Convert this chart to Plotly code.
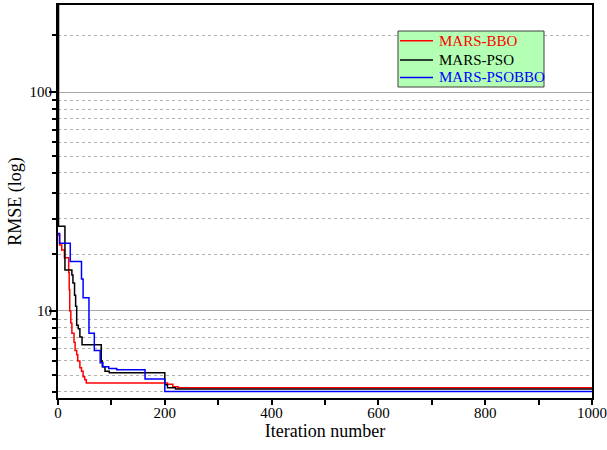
import plotly.graph_objects as go

# ---- data (iteration, RMSE); drawn as steps ----
bbo_iter = [0, 3, 7, 12, 20, 21, 22, 24, 26, 30, 32, 35, 37, 41, 44, 47, 50, 53, 190, 205, 215, 225, 1000]
bbo_rmse = [22.2, 20.0, 19.0, 17.5, 15.0, 12.5, 10.0, 8.8, 7.9, 7.2, 6.6, 6.3, 5.9, 5.5, 5.3, 5.0, 4.85, 4.68, 4.68, 4.62, 4.5, 4.45, 4.45]

pso_iter = [0, 1, 13, 26, 28, 31, 33, 35, 38, 41, 45, 81, 83, 88, 96, 200, 205, 220, 1000]
pso_rmse = [300, 24.4, 15.4, 14.6, 13.4, 11.8, 10.5, 8.6, 8.3, 7.6, 7.0, 5.9, 5.55, 5.3, 5.22, 4.6, 4.45, 4.40, 4.40]

psobbo_iter = [0, 3, 23, 44, 47, 58, 68, 79, 84, 95, 110, 163, 200, 1000]
psobbo_rmse = [22.6, 20.4, 16.8, 14.0, 11.5, 7.9, 6.6, 5.8, 5.55, 5.45, 5.38, 4.88, 4.28, 4.28]

x_ticks = [0, 200, 400, 600, 800, 1000]
y_major_ticks = [10, 100]
y_major_labels = ["10", "100"]
y_minor_ticks = [4.27, 5.09, 5.91, 6.73, 7.55, 8.36, 9.18,
                 18.18, 26.36, 34.55, 42.73, 50.91, 59.09, 67.27, 75.45, 83.64, 91.82,
                 181.8]

series = [
    ("MARS-BBO", bbo_iter, bbo_rmse, "#ff0000"),
    ("MARS-PSO", pso_iter, pso_rmse, "#000000"),
    ("MARS-PSOBBO", psobbo_iter, psobbo_rmse, "#0000ff"),
]

FONT = "Liberation Serif, Times New Roman, serif"
W, H = 607, 450
ML, MR, MT, MB = 58, 15, 5, 52
PW, PH = W - ML - MR, H - MT - MB


def px_x(p):
    return (p - ML) / PW


def px_y(p):
    return (H - MB - p) / PH


fig = go.Figure()
for name, xs, ys, col in series:
    fig.add_trace(go.Scatter(
        x=xs, y=ys, mode="lines", line=dict(color=col, width=1.5, shape="hv"),
        name=name, showlegend=False,
    ))

# hand-built legend box (matches the compact reference legend)
fig.add_shape(type="rect", xref="paper", yref="paper",
              x0=px_x(398), x1=px_x(544), y0=px_y(87), y1=px_y(31),
              fillcolor="#b3ffb3", line=dict(color="#404040", width=1), layer="above")
row_y = [40.7, 60, 77.5]
for (name, xs, ys, col), ry in zip(series, row_y):
    fig.add_shape(type="line", xref="paper", yref="paper",
                  x0=px_x(400), x1=px_x(433), y0=px_y(ry), y1=px_y(ry),
                  line=dict(color=col, width=1.5), layer="above")
    fig.add_annotation(xref="paper", yref="paper", x=px_x(437), y=px_y(ry),
                       xanchor="left", yanchor="middle", text=name, showarrow=False,
                       font=dict(family=FONT, size=15, color=col))

fig.update_layout(
    width=W, height=H,
    margin=dict(l=ML, r=MR, t=MT, b=MB),
    paper_bgcolor="white", plot_bgcolor="white",
    font=dict(family=FONT, size=15, color="black"),
    showlegend=False,
)

fig.update_xaxes(
    range=[0, 1000], tickmode="array", tickvals=x_ticks, automargin=False,
    ticks="outside", ticklen=5, tickwidth=1.5, tickcolor="black",
    showline=True, linecolor="black", linewidth=2, mirror=True,
    showgrid=False, zeroline=False,
    tickfont=dict(family=FONT, size=15), ticklabelstandoff=-5,
    minor=dict(dtick=100, tick0=0, ticks="outside", ticklen=5, tickwidth=1.5, tickcolor="black", showgrid=False),
    title=dict(text="Iteration number", font=dict(family=FONT, size=18), standoff=0),
)

fig.update_yaxes(
    type="log", range=[0.60206, 2.39794], automargin=False,
    tickmode="array", tickvals=y_major_ticks, ticktext=y_major_labels,
    ticks="outside", ticklen=7, tickwidth=1.5, tickcolor="black",
    showline=True, linecolor="black", linewidth=2, mirror=True,
    showgrid=True, gridcolor="#a8a8a8", gridwidth=1,
    zeroline=False,
    tickfont=dict(family=FONT, size=15), ticklabelstandoff=-6,
    minor=dict(tickmode="array", tickvals=y_minor_ticks, ticks="outside", ticklen=4,
               tickwidth=1.5, tickcolor="black",
               showgrid=True, gridcolor="#b0b0b0", gridwidth=1, griddash="3px,3px"),
    title=dict(text="RMSE (log)", font=dict(family=FONT, size=18), standoff=3),
)

fig.write_html(
    "out.html",
    config={"displayModeBar": False, "responsive": False},
    default_width="607px", default_height="450px",
    post_script="document.body.style.margin='0';document.body.style.overflow='hidden';",
)
